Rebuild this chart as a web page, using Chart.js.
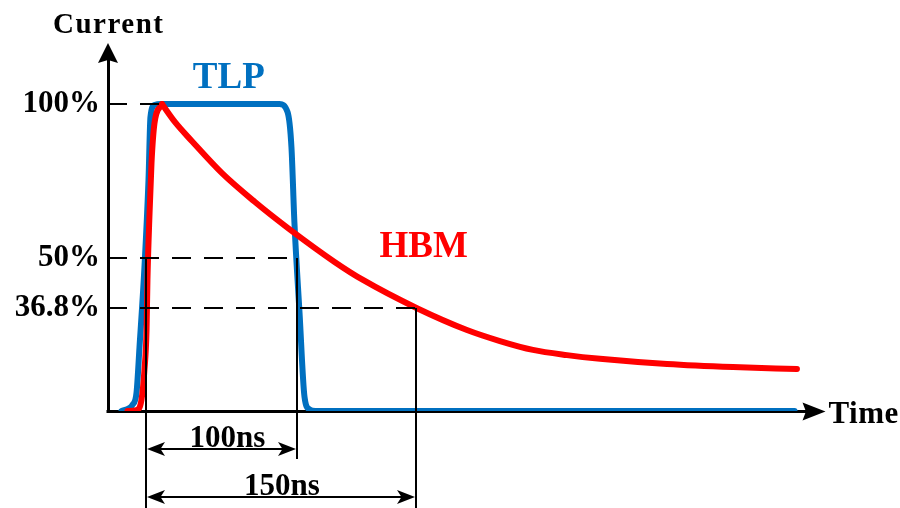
<!DOCTYPE html>
<html>
<head>
<meta charset="utf-8">
<script src="https://cdn.jsdelivr.net/npm/chart.js@4"></script>
<style>
  html, body { margin: 0; padding: 0; background: #fff; }
  #c { display: block; }
</style>
</head>
<body>
<canvas id="c" width="900" height="508"></canvas>
<script>
// ---- Data (time in ns-like units, current in % of peak) ----
const tlpTime    = [-16, -10.7, -8.7, -6, -4, -0.7, 2, 3.3, 6, 10.7, 89.3, 94.7, 97.3, 99.3, 102.7, 106, 109.3, 113.3, 432.7];
const tlpCurrent = [0, 1, 2, 5.9, 20.8, 46.9, 75.2, 95.8, 99.7, 100, 100, 97.4, 86, 61.2, 31.9, 4.6, 0.5, 0, 0];

const hbmTime    = [-12, -6, -2.7, -0.7, 0.7, 1.3, 2.7, 4, 6, 11, 19.7, 31, 51, 73, 95, 126.3, 145, 181, 214.3, 236.3, 258.3, 281, 303, 347.7, 391.7, 434.3];
const hbmCurrent = [0, 0.3, 3.6, 13.4, 26.4, 42.7, 64.5, 80.8, 93.8, 100, 94.1, 87.9, 77.5, 68.1, 59.6, 48.5, 42.7, 33.5, 26.4, 22.8, 19.9, 18.2, 17.0, 15.3, 14.3, 13.7];

const levelValues = [100, 50, 33.5];
const levelLabels = ['100%', '50%', '36.8%'];
const levelEnds   = [9.7, 101, 180];      // where each dashed guide ends (time)
const markerStart = 0;
const markerEnds  = [101, 180];
const markerLabels = ['100ns', '150ns'];
const seriesNames = ['HBM', 'TLP'];
const axisNames = ['Current', 'Time'];

const SERIF = '"Liberation Serif", "Times New Roman", serif';

function toPts(xs, ys) { return xs.map((x, i) => ({ x: x, y: ys[i] })); }

// HBM has a sharp peak: draw the rise and the decay as two pieces meeting at the peak
const hbmPeak = hbmCurrent.indexOf(Math.max(...hbmCurrent));
const hbmRise = toPts(hbmTime.slice(0, hbmPeak + 1), hbmCurrent.slice(0, hbmPeak + 1));
const hbmFall = toPts(hbmTime.slice(hbmPeak), hbmCurrent.slice(hbmPeak));

function arrowHead(ctx, tipX, tipY, dir, len, half, notch) {
  const n = notch || 0.8;
  ctx.beginPath();
  if (dir === 'right') {
    ctx.moveTo(tipX, tipY); ctx.lineTo(tipX - len, tipY - half);
    ctx.lineTo(tipX - len * n, tipY); ctx.lineTo(tipX - len, tipY + half);
  } else if (dir === 'left') {
    ctx.moveTo(tipX, tipY); ctx.lineTo(tipX + len, tipY - half);
    ctx.lineTo(tipX + len * n, tipY); ctx.lineTo(tipX + len, tipY + half);
  } else if (dir === 'up') {
    ctx.moveTo(tipX, tipY); ctx.lineTo(tipX - half, tipY + len);
    ctx.lineTo(tipX, tipY + len * n); ctx.lineTo(tipX + half, tipY + len);
  }
  ctx.closePath();
  ctx.fill();
}

const decor = {
  id: 'decor',
  beforeDatasetsDraw(chart) {
    const { ctx, chartArea: ca, scales: { x, y } } = chart;
    ctx.save();
    ctx.strokeStyle = '#000';
    ctx.fillStyle = '#000';
    ctx.lineWidth = 3;
    const y0 = y.getPixelForValue(0) + 0.5;
    ctx.beginPath();
    ctx.moveTo(ca.left - 1.5, y0);
    ctx.lineTo(ca.right + 2, y0);
    ctx.stroke();
    arrowHead(ctx, ca.right + 20, y0, 'right', 23, 9, 0.85);
    arrowHead(ctx, ca.left, 43, 'up', 20, 10, 0.85);
    ctx.restore();
  },
  afterDatasetsDraw(chart) {
    const { ctx, chartArea: ca, scales: { x, y } } = chart;
    ctx.save();
    ctx.strokeStyle = '#000';
    ctx.fillStyle = '#000';
    ctx.lineWidth = 2;
    ctx.setLineDash([19, 13]);
    levelValues.forEach((v, i) => {
      const py = Math.round(y.getPixelForValue(v));
      ctx.beginPath();
      ctx.moveTo(ca.left, py);
      ctx.lineTo(x.getPixelForValue(levelEnds[i]), py);
      ctx.stroke();
    });
    ctx.setLineDash([]);
    const vLines = [
      { t: markerStart, from: levelValues[1], to: 508 },
      { t: markerEnds[0], from: levelValues[1], to: 459 },
      { t: markerEnds[1], from: levelValues[2], to: 508 }
    ];
    vLines.forEach(l => {
      const px = Math.round(x.getPixelForValue(l.t));
      ctx.beginPath();
      ctx.moveTo(px, Math.round(y.getPixelForValue(l.from)));
      ctx.lineTo(px, l.to);
      ctx.stroke();
    });
    const arrowYs = [449, 497];
    const labelYs = [447, 495];
    ctx.font = 'bold 31px ' + SERIF;
    ctx.textAlign = 'center';
    ctx.textBaseline = 'alphabetic';
    markerEnds.forEach((t, i) => {
      const x1 = Math.round(x.getPixelForValue(markerStart));
      const x2 = Math.round(x.getPixelForValue(t));
      const ay = arrowYs[i];
      ctx.beginPath();
      ctx.moveTo(x1 + 4, ay);
      ctx.lineTo(x2 - 4, ay);
      ctx.stroke();
      arrowHead(ctx, x1 + 1, ay, 'left', 18, 7, 0.75);
      arrowHead(ctx, x2 - 1, ay, 'right', 18, 7, 0.75);
      ctx.fillText(markerLabels[i], (x1 + x2) / 2 + (i === 0 ? 6 : 1), labelYs[i]);
    });
    ctx.textAlign = 'left';
    ctx.font = 'bold 29px ' + SERIF;
    ctx.letterSpacing = '1.5px';
    ctx.fillText(axisNames[0], 53, 33);
    ctx.letterSpacing = '0.5px';
    ctx.font = 'bold 31px ' + SERIF;
    ctx.fillText(axisNames[1], ca.right + 23, 423);
    ctx.letterSpacing = '0px';
    ctx.font = 'bold 37px ' + SERIF;
    ctx.textAlign = 'center';
    ctx.fillStyle = '#0070C0';
    ctx.fillText(seriesNames[1], x.getPixelForValue(55.5), 88);
    ctx.fillStyle = '#FF0000';
    ctx.fillText(seriesNames[0], x.getPixelForValue(185.5), 257);
    ctx.restore();
  }
};

const lineStyle = {
  borderWidth: 6,
  pointRadius: 0,
  cubicInterpolationMode: 'monotone',
  borderCapStyle: 'round',
  borderJoinStyle: 'round',
  fill: false
};

new Chart(document.getElementById('c'), {
  type: 'line',
  data: {
    datasets: [
      Object.assign({ label: seriesNames[0], data: hbmRise, borderColor: '#FF0000' }, lineStyle),
      Object.assign({ label: seriesNames[0], data: hbmFall, borderColor: '#FF0000' }, lineStyle),
      Object.assign({ label: seriesNames[1], data: toPts(tlpTime, tlpCurrent), borderColor: '#0070C0' }, lineStyle)
    ]
  },
  options: {
    responsive: false,
    devicePixelRatio: 1,
    animation: false,
    layout: { padding: { left: 0, right: 94.5, top: 55, bottom: 97 } },
    plugins: { legend: { display: false }, tooltip: { enabled: false } },
    scales: {
      x: {
        type: 'linear',
        min: -25,
        max: 440,
        display: false
      },
      y: {
        type: 'linear',
        min: 0,
        max: 116,
        grid: { display: false, drawTicks: false },
        border: { display: true, color: '#000', width: 3 },
        afterBuildTicks(scale) { scale.ticks = levelValues.map(v => ({ value: v })); },
        afterFit(scale) { scale.width = 108; },
        ticks: {
          padding: 8,
          color: '#000',
          font: { family: SERIF, size: 31, weight: 'bold' },
          callback(value) {
            const i = levelValues.indexOf(value);
            return i >= 0 ? levelLabels[i] : '';
          }
        }
      }
    }
  },
  plugins: [decor]
});
</script>
</body>
</html>
